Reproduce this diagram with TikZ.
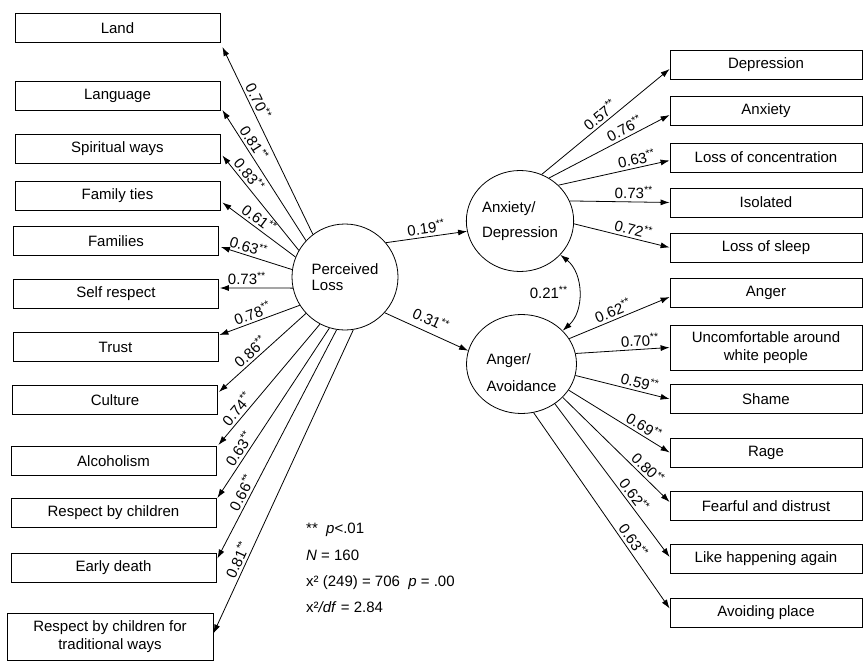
\documentclass[tikz,border=0pt]{standalone}
\usepackage{fontspec}
\setmainfont{Liberation Sans}
\usetikzlibrary{arrows.meta,shapes.geometric,calc}
\begin{document}
\begin{tikzpicture}[x=1pt,y=-1pt,
  box/.style={draw, line width=0.8pt, minimum height=29pt, inner sep=0pt, font=\fontsize{15}{18}\selectfont, align=center},
  lbox/.style={box, minimum width=205pt},
  rbox/.style={box, minimum width=192pt},
  lat/.style={draw, ellipse, line width=0.8pt, inner sep=0pt, align=left},
  conn/.style={line width=0.8pt, -{Latex[length=9pt,width=6pt]}},
  dconn/.style={line width=0.8pt, {Latex[length=9pt,width=6pt]}-{Latex[length=9pt,width=6pt]}},
  coef/.style={font=\fontsize{15}{18}\selectfont, sloped, above=1pt, inner sep=1.5pt},
  stat/.style={font=\fontsize{15}{18}\selectfont, anchor=west, inner sep=0pt},
]
\useasboundingbox (0,0) rectangle (865,661);

% left boxes
\node[lbox] (land) at (117.5,28) {Land};
\node[lbox] (lang) at (117.5,96) {Language};
\node[lbox] (spir) at (117.5,148.5) {Spiritual ways};
\node[lbox] (ftie) at (117.5,195.5) {Family ties};
\node[lbox] (fams) at (116,241) {Families};
\node[lbox] (self) at (116,294) {Self respect};
\node[lbox] (trus) at (115.5,347) {Trust};
\node[lbox] (cult) at (115,400) {Culture};
\node[lbox] (alco) at (113.5,461) {Alcoholism};
\node[lbox] (resp) at (113.5,513) {Respect by children};
\node[lbox] (earl) at (113.5,567.5) {Early death};
\node[lbox, minimum width=206pt, minimum height=47pt] (trad) at (110,636.5) {Respect by children for\\traditional ways};

% right boxes
\node[rbox] (dep) at (766,65) {Depression};
\node[rbox] (anx) at (766,111) {Anxiety};
\node[rbox] (loc) at (766,157.5) {Loss of concentration};
\node[rbox] (iso) at (766,202.5) {Isolated};
\node[rbox] (los) at (766,247.5) {Loss of sleep};
\node[rbox] (ang) at (766,293) {Anger};
\node[rbox, minimum height=45pt] (unc) at (766,347.5) {Uncomfortable around\\white people};
\node[rbox] (sha) at (766,399) {Shame};
\node[rbox] (rag) at (766,452.5) {Rage};
\node[rbox] (fea) at (766,506) {Fearful and distrust};
\node[rbox] (lik) at (766,559) {Like happening again};
\node[rbox] (avo) at (766,612.5) {Avoiding place};

% latent variables
\node[lat, minimum width=106pt, minimum height=106pt, font=\fontsize{15}{16}\selectfont] (pl) at (345,277) {Perceived\\Loss};
\node[lat, minimum width=105pt, minimum height=101pt, font=\fontsize{15}{25}\selectfont] (ad) at (520,221) {Anxiety/\\Depression};
\node[lat, minimum width=110pt, minimum height=99pt,
  label={[yshift=-9pt, align=left, font=\fontsize{15}{27}\selectfont, inner sep=0pt]center:{Anger/\\Avoidance}}] (aa) at (521.5,364) {};

% perceived loss indicators
\draw[conn] (pl.127) -- node[coef,pos=0.69]{0.70\textsuperscript{**}} ($(land.east)+(2,19)$);
\draw[conn] (pl.137) -- node[coef,pos=0.71]{0.81\textsuperscript{**}} ($(lang.east)+(2,14)$);
\draw[conn] (pl.150) -- node[coef,pos=0.74]{0.83\textsuperscript{**}} ($(spir.east)+(2,7)$);
\draw[conn] (pl.158) -- node[coef,pos=0.57]{0.61\textsuperscript{**}} ($(ftie.east)+(2,7)$);
\draw[conn] (pl.172) -- node[coef,pos=0.65]{0.63\textsuperscript{**}} ($(fams.east)+(2,6)$);
\draw[conn] (pl.192) -- node[coef,pos=0.63]{0.73\textsuperscript{**}} ($(self.east)+(1,-6)$);
\draw[conn] (pl.212) -- node[coef,pos=0.55]{0.78\textsuperscript{**}} ($(trus.east)+(1,-12)$);
\draw[conn] (pl.223) -- node[coef,pos=0.57]{0.86\textsuperscript{**}} ($(cult.east)+(1,-8)$);
\draw[conn] (pl.242) -- node[coef,pos=0.75]{0.74\textsuperscript{**}} ($(alco.east)+(2,-16)$);
\draw[conn] (pl.253) -- node[coef,pos=0.74]{0.63\textsuperscript{**}} ($(resp.east)+(1,-15)$);
\draw[conn] (pl.261) -- node[coef,pos=0.73]{0.66\textsuperscript{**}} ($(earl.east)+(1,-9)$);
\draw[conn] (pl.279) -- node[coef,pos=0.77]{0.81\textsuperscript{**}} ($(trad.east)+(0,-3)$);

% structural paths
\draw[conn] (pl.40) -- node[coef,pos=0.51]{0.19\textsuperscript{**}} (ad.191);
\draw[conn] (pl.-42) -- node[coef,pos=0.49,above=4pt]{0.31\textsuperscript{**}} (aa.166);
\draw[dconn] (ad.-40) to[bend left=50] node[midway, left=9pt, font=\fontsize{15}{18}\selectfont, inner sep=1.5pt]{0.21\textsuperscript{**}} (aa.39);

% anxiety/depression indicators
\draw[conn] (ad.65) -- node[coef,pos=0.5]{0.57\textsuperscript{**}} ($(dep.west)+(0,4)$);
\draw[conn] (ad.56) -- node[coef,pos=0.66]{0.76\textsuperscript{**}} ($(anx.west)+(0,4)$);
\draw[conn] (ad.43) -- node[coef,pos=0.72]{0.63\textsuperscript{**}} ($(loc.west)+(0,3)$);
\draw[conn] (ad.22) -- node[coef,pos=0.64]{0.73\textsuperscript{**}} (iso.west);
\draw[conn] (ad.-3) -- node[coef,pos=0.6]{0.72\textsuperscript{**}} (los.west);

% anger/avoidance indicators
\draw[conn] (aa.28) -- node[coef,pos=0.47]{0.62\textsuperscript{**}} ($(ang.west)+(0,4)$);
\draw[conn] (aa.11) -- node[coef,pos=0.69]{0.70\textsuperscript{**}} (unc.west);
\draw[conn] (aa.-12) -- node[coef,pos=0.66]{0.59\textsuperscript{**}} (sha.west);
\draw[conn] (aa.-29) -- node[coef,pos=0.70]{0.69\textsuperscript{**}} (rag.west);
\draw[conn] (aa.-39) -- node[coef,pos=0.74]{0.80\textsuperscript{**}} ($(fea.west)+(0,-4)$);
\draw[conn] (aa.-50) -- node[coef,pos=0.63]{0.62\textsuperscript{**}} ($(lik.west)+(0,-2)$);
\draw[conn] (aa.-76) -- node[coef,pos=0.68]{0.63\textsuperscript{**}} ($(avo.west)+(0,-4)$);

% statistics
\node[stat] (s1) at (306,530) {**\ \ \textit{p}<.01};
\node[stat] (s2) at (306,555) {\textit{N} = 160};
\node[stat] (s3) at (306,583) {x² (249) = 706\ \ \textit{p} = .00};
\node[stat] (s4) at (306,607) {x²\textit{/df} = 2.84};
\end{tikzpicture}
\end{document}
